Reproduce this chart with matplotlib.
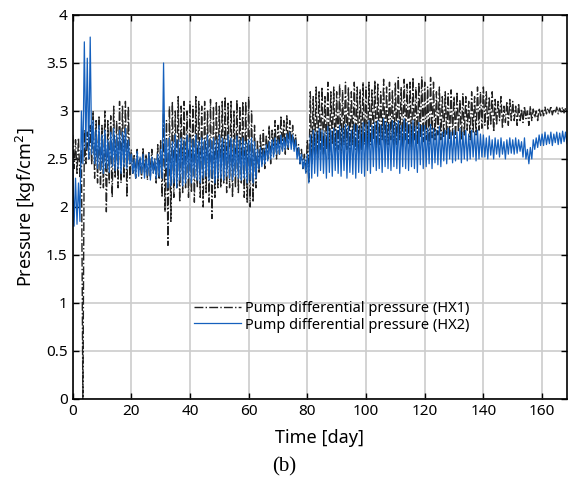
import numpy as np
import matplotlib
matplotlib.use("Agg")
import matplotlib.pyplot as plt

# daily high / low readings (kgf/cm2)
hx1_hi = [2.75, 2.7, 2.72, 2.6, 2.8, 2.78, 2.85, 3.0, 2.9, 2.95,
          2.85, 3.0, 2.9, 2.95, 3.05, 2.9, 3.1, 3.05, 3.1, 3.05,
          2.6, 2.55, 2.6, 2.5, 2.62, 2.55, 2.58, 2.6, 2.5, 2.65,
          2.7, 3.0, 2.9, 3.05, 3.1, 3.0, 3.15, 3.05, 3.1, 3.0,
          3.1, 3.05, 3.15, 3.1, 3.05, 3.1, 3.0, 3.12, 3.05, 3.1,
          3.05, 3.1, 3.15, 3.08, 3.1, 3.0, 3.12, 3.05, 3.1, 3.1,
          3.15, 3.0, 2.85, 2.7, 2.75, 2.8, 2.75, 2.85, 2.8, 2.9,
          2.85, 2.95, 2.9, 2.95, 2.9, 2.85, 2.75, 2.65, 2.6, 2.55,
          2.7, 3.2, 3.15, 3.25, 3.2, 3.25, 3.15, 3.3, 3.2, 3.25,
          3.2, 3.28, 3.22, 3.3, 3.25, 3.2, 3.3, 3.25, 3.22, 3.3,
          3.25, 3.3, 3.22, 3.32, 3.28, 3.2, 3.33, 3.25, 3.3, 3.22,
          3.3, 3.35, 3.25, 3.33, 3.28, 3.3, 3.35, 3.25, 3.3, 3.36,
          3.3, 3.25, 3.35, 3.3, 3.2, 3.25, 3.15, 3.2, 3.18, 3.22,
          3.15, 3.2, 3.12, 3.18, 3.15, 3.1, 3.2, 3.15, 3.25, 3.2,
          3.25, 3.2, 3.15, 3.2, 3.12, 3.1, 3.15, 3.05, 3.1, 3.12,
          3.1, 3.05, 3.08, 3.02, 3.05, 3.0, 3.05, 3.02, 3.0, 3.03,
          3.02, 3.04, 3.03, 3.05, 3.02, 3.04, 3.03, 3.04, 3.03]
hx1_lo = [2.4, 2.35, 2.3, 0.0, 2.45, 2.5, 2.45, 2.3, 2.25, 2.2,
          2.2, 1.95, 2.25, 2.1, 2.3, 2.2, 2.25, 2.3, 2.1, 2.3,
          2.35, 2.3, 2.38, 2.3, 2.35, 2.28, 2.32, 2.35, 2.25, 2.3,
          2.1, 1.95, 1.6, 1.85, 2.1, 2.2, 2.05, 2.15, 2.2, 2.1,
          2.15, 2.05, 2.2, 2.1, 2.0, 2.15, 2.05, 1.88, 2.1, 2.2,
          2.2, 2.25, 2.15, 2.2, 2.1, 2.2, 2.15, 2.25, 2.1, 2.05,
          2.0, 2.05, 2.2, 2.35, 2.45, 2.4, 2.5, 2.45, 2.55, 2.5,
          2.55, 2.6, 2.55, 2.6, 2.65, 2.6, 2.55, 2.45, 2.4, 2.35,
          2.25, 2.45, 2.55, 2.5, 2.6, 2.55, 2.6, 2.5, 2.65, 2.55,
          2.6, 2.55, 2.65, 2.6, 2.55, 2.65, 2.6, 2.55, 2.6, 2.65,
          2.6, 2.65, 2.7, 2.6, 2.65, 2.7, 2.6, 2.65, 2.7, 2.62,
          2.65, 2.7, 2.62, 2.7, 2.66, 2.6, 2.7, 2.65, 2.72, 2.68,
          2.7, 2.65, 2.72, 2.7, 2.75, 2.7, 2.72, 2.75, 2.7, 2.75,
          2.72, 2.78, 2.7, 2.75, 2.8, 2.7, 2.78, 2.75, 2.8, 2.82,
          2.85, 2.8, 2.85, 2.78, 2.85, 2.9, 2.82, 2.88, 2.85, 2.9,
          2.9, 2.85, 2.9, 2.88, 2.92, 2.85, 2.9, 2.93, 2.9, 2.95,
          2.95, 2.97, 2.98, 2.96, 2.98, 2.97, 2.99, 2.98, 3.0]

hx2_hi = [2.5, 2.3, 2.25, 3.0, 3.72, 3.55, 3.77, 2.9, 2.8, 2.85,
          2.75, 2.8, 2.7, 2.78, 2.82, 2.75, 2.8, 2.78, 2.82, 2.7,
          2.55, 2.5, 2.58, 2.52, 2.55, 2.5, 2.56, 2.52, 2.5, 2.55,
          2.6, 3.5, 2.7, 2.72, 2.68, 2.75, 2.7, 2.72, 2.7, 2.75,
          2.72, 2.7, 2.75, 2.68, 2.72, 2.7, 2.75, 2.7, 2.72, 2.7,
          2.75, 2.72, 2.7, 2.75, 2.72, 2.7, 2.74, 2.7, 2.72, 2.68,
          2.7, 2.72, 2.68, 2.6, 2.62, 2.6, 2.65, 2.68, 2.7, 2.72,
          2.7, 2.75, 2.72, 2.76, 2.78, 2.75, 2.7, 2.62, 2.55, 2.5,
          2.55, 2.75, 2.8, 2.78, 2.82, 2.8, 2.78, 2.84, 2.8, 2.82,
          2.8, 2.85, 2.82, 2.86, 2.84, 2.8, 2.86, 2.85, 2.82, 2.88,
          2.86, 2.9, 2.85, 2.88, 2.9, 2.85, 2.92, 2.88, 2.86, 2.9,
          2.88, 2.9, 2.85, 2.92, 2.88, 2.86, 2.9, 2.84, 2.88, 2.85,
          2.85, 2.82, 2.86, 2.82, 2.8, 2.84, 2.78, 2.8, 2.82, 2.78,
          2.8, 2.78, 2.82, 2.78, 2.8, 2.76, 2.8, 2.78, 2.8, 2.76,
          2.75, 2.72, 2.74, 2.7, 2.72, 2.7, 2.72, 2.68, 2.7, 2.72,
          2.7, 2.72, 2.7, 2.68, 2.72, 2.6, 2.62, 2.7, 2.72, 2.75,
          2.76, 2.78, 2.75, 2.78, 2.76, 2.78, 2.77, 2.79, 2.78]
hx2_lo = [1.8, 1.82, 1.85, 2.45, 2.6, 2.5, 2.55, 2.45, 2.4, 2.38,
          2.35, 2.4, 2.36, 2.42, 2.38, 2.4, 2.35, 2.42, 2.4, 2.45,
          2.35, 2.3, 2.32, 2.35, 2.3, 2.33, 2.28, 2.35, 2.3, 2.32,
          2.3, 2.4, 2.2, 2.22, 2.25, 2.2, 2.28, 2.22, 2.25, 2.3,
          2.25, 2.3, 2.28, 2.25, 2.3, 2.32, 2.28, 2.3, 2.25, 2.3,
          2.3, 2.28, 2.32, 2.3, 2.28, 2.32, 2.3, 2.28, 2.3, 2.25,
          2.28, 2.25, 2.3, 2.4, 2.42, 2.45, 2.48, 2.5, 2.52, 2.55,
          2.55, 2.58, 2.6, 2.62, 2.6, 2.58, 2.5, 2.45, 2.4, 2.35,
          2.25, 2.3, 2.35, 2.32, 2.38, 2.35, 2.3, 2.36, 2.32, 2.38,
          2.35, 2.32, 2.38, 2.3, 2.36, 2.34, 2.3, 2.36, 2.35, 2.32,
          2.38, 2.35, 2.42, 2.38, 2.4, 2.36, 2.42, 2.4, 2.38, 2.42,
          2.4, 2.35, 2.42, 2.4, 2.38, 2.42, 2.4, 2.36, 2.44, 2.4,
          2.42, 2.45, 2.4, 2.46, 2.44, 2.42, 2.48, 2.45, 2.5, 2.46,
          2.48, 2.5, 2.46, 2.5, 2.48, 2.5, 2.52, 2.48, 2.5, 2.52,
          2.52, 2.5, 2.54, 2.5, 2.55, 2.52, 2.55, 2.5, 2.55, 2.56,
          2.55, 2.56, 2.58, 2.52, 2.5, 2.45, 2.5, 2.6, 2.62, 2.64,
          2.64, 2.65, 2.66, 2.64, 2.67, 2.65, 2.66, 2.68, 2.66]

x_ticks = [0, 20, 40, 60, 80, 100, 120, 140, 160]
y_ticks = [0, 0.5, 1, 1.5, 2, 2.5, 3, 3.5, 4]


def interleave(hi, lo):
    # high reading at the start of each day, low reading at mid-day
    days = np.arange(len(hi))
    t = np.empty(2 * len(hi))
    v = np.empty(2 * len(hi))
    t[0::2], t[1::2] = days, days + 0.5
    v[0::2], v[1::2] = hi, lo
    return t, v


plt.rcParams['font.family'] = ['Noto Sans', 'DejaVu Sans']

fig = plt.figure(figsize=(5.69, 4.88), dpi=100)
ax = fig.add_axes([0.1276, 0.1824, 0.8689, 0.7869])

t1, v1 = interleave(hx1_hi, hx1_lo)
t2, v2 = interleave(hx2_hi, hx2_lo)
ax.plot(t1, v1, color='#222222', linestyle='-.', linewidth=1.0,
        label='Pump differential pressure (HX1)')
ax.plot(t2, v2, color='#1560bd', linestyle='-', linewidth=0.9,
        label='Pump differential pressure (HX2)')

ax.set_xlim(0, 168.5)
ax.set_ylim(0, 4)
ax.set_xticks(x_ticks)
ax.set_yticks(y_ticks)
ax.set_yticklabels(['0', '0.5', '1', '1.5', '2', '2.5', '3', '3.5', '4'])
ax.grid(True, color='#cccccc', linewidth=1.2)
ax.set_axisbelow(True)
ax.tick_params(direction='in', top=True, right=True, length=4, width=1,
               labelsize=11)
for s in ax.spines.values():
    s.set_linewidth(1.2)

ax.set_xlabel('Time [day]', fontsize=13, labelpad=7)
ax.set_ylabel('Pressure [kgf/cm$^2$]', fontsize=13, labelpad=6)

leg = ax.legend(loc='center', bbox_to_anchor=(0.525, 0.214), frameon=False,
                fontsize=10.5, handlelength=3.2, handletextpad=0.3,
                labelspacing=0.1)

fig.text(0.5, 0.043, '(b)', ha='center', va='center', fontsize=15,
         family='Liberation Serif')

fig.savefig('out.png', dpi=100)
